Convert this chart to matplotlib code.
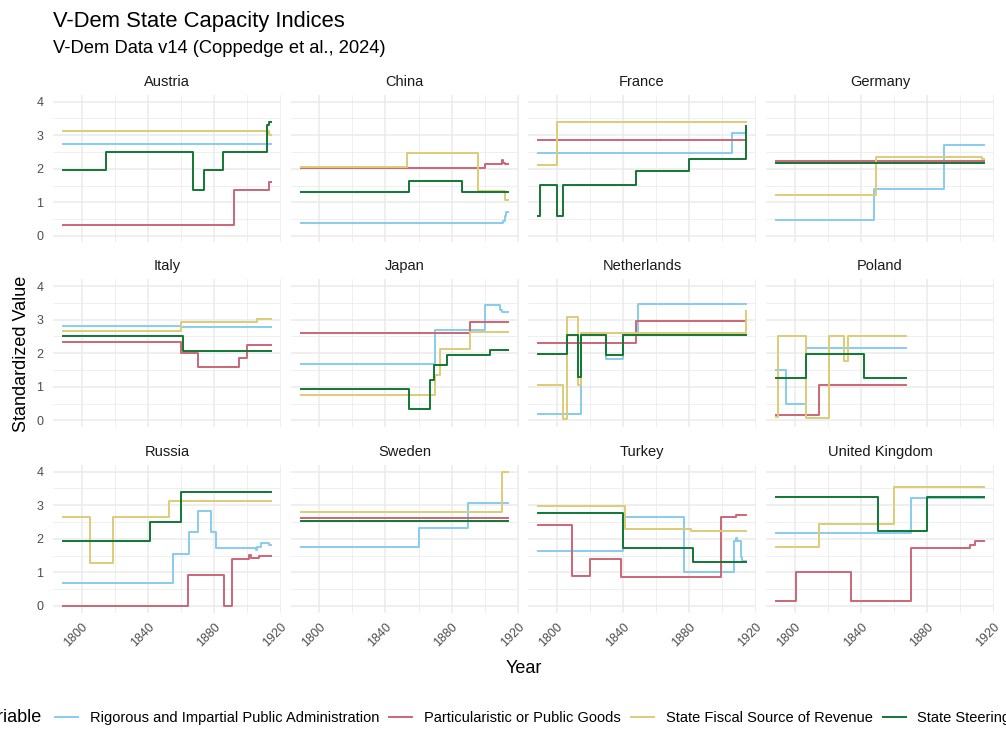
import matplotlib
matplotlib.use('Agg')
import matplotlib.pyplot as plt
from matplotlib.lines import Line2D
from matplotlib.ticker import MultipleLocator

plt.rcParams['font.family'] = ['Liberation Sans', 'DejaVu Sans']

# each series: (years, values); the last pair is where the step line ends
austria = {
    "admin": ([1789, 1914], [2.73, 2.73]),
    "goods": ([1789, 1892, 1913, 1914], [0.33, 1.38, 1.6, 1.6]),
    "fiscal": ([1789, 1913, 1914], [3.12, 3.0, 3.0]),
    "steer": ([1789, 1815, 1867, 1874, 1885, 1912, 1913, 1914],
              [1.95, 2.49, 1.37, 1.95, 2.5, 3.3, 3.4, 3.4]),
}
china = {
    "admin": ([1789, 1911, 1912, 1913, 1914], [0.39, 0.45, 0.6, 0.7, 0.7]),
    "goods": ([1789, 1900, 1910, 1911, 1912, 1914], [2.02, 2.15, 2.25, 2.17, 2.15, 2.15]),
    "fiscal": ([1789, 1853, 1896, 1912, 1914], [2.06, 2.48, 1.35, 1.07, 1.07]),
    "steer": ([1789, 1854, 1886, 1914], [1.32, 1.63, 1.3, 1.3]),
}
france = {
    "admin": ([1789, 1906, 1914], [2.46, 3.06, 3.06]),
    "goods": ([1789, 1914], [2.85, 2.85]),
    "fiscal": ([1789, 1800, 1914], [2.1, 3.38, 3.38]),
    "steer": ([1789, 1790, 1800, 1804, 1848, 1880, 1914],
              [0.58, 1.52, 0.6, 1.52, 1.92, 2.3, 3.28]),
}
germany = {
    "admin": ([1789, 1848, 1890, 1914], [0.47, 1.41, 2.72, 2.72]),
    "goods": ([1789, 1914], [2.24, 2.24]),
    "fiscal": ([1789, 1849, 1913, 1914], [1.23, 2.36, 2.3, 2.3]),
    "steer": ([1789, 1914], [2.16, 2.16]),
}
italy = {
    "admin": ([1789, 1860, 1914], [2.82, 2.77, 2.77]),
    "goods": ([1789, 1860, 1870, 1895, 1900, 1914], [2.35, 2.0, 1.6, 1.85, 2.25, 2.25]),
    "fiscal": ([1789, 1860, 1906, 1914], [2.65, 2.92, 3.01, 3.01]),
    "steer": ([1789, 1861, 1914], [2.51, 2.08, 2.08]),
}
japan = {
    "admin": ([1789, 1870, 1900, 1909, 1910, 1914], [1.69, 2.68, 3.45, 3.3, 3.23, 3.23]),
    "goods": ([1789, 1891, 1914], [2.59, 2.94, 2.94]),
    "fiscal": ([1789, 1870, 1873, 1891, 1914], [0.75, 1.35, 2.13, 2.62, 2.62]),
    "steer": ([1789, 1854, 1867, 1869, 1877, 1903, 1914],
              [0.92, 0.35, 1.2, 1.64, 1.95, 2.1, 2.1]),
}
netherlands = {
    "admin": ([1789, 1815, 1830, 1840, 1849, 1914], [0.2, 2.56, 1.82, 2.56, 3.48, 3.48]),
    "goods": ([1789, 1848, 1914], [2.31, 2.95, 2.95]),
    "fiscal": ([1789, 1804, 1806, 1813, 1815, 1914], [1.04, 0.03, 3.07, 1.04, 2.6, 3.25]),
    "steer": ([1789, 1806, 1813, 1815, 1830, 1840, 1914],
              [1.97, 2.55, 1.3, 2.55, 1.95, 2.55, 2.55]),
}
poland = {
    "admin": ([1789, 1795, 1807, 1867], [1.5, 0.48, 2.15, 2.15]),
    "goods": ([1789, 1815, 1867], [0.16, 1.04, 1.04]),
    "fiscal": ([1789, 1790, 1807, 1821, 1830, 1832, 1867],
               [0.1, 2.52, 0.08, 2.52, 1.76, 2.52, 2.52]),
    "steer": ([1789, 1807, 1842, 1867], [1.26, 1.97, 1.25, 1.25]),
}
russia = {
    "admin": ([1789, 1855, 1865, 1870, 1878, 1881, 1905, 1906, 1908, 1913, 1914],
              [0.68, 1.55, 2.19, 2.83, 2.19, 1.73, 1.65, 1.75, 1.87, 1.8, 1.8]),
    "goods": ([1789, 1864, 1886, 1891, 1901, 1902, 1907, 1914],
              [0.0, 0.92, 0.0, 1.39, 1.52, 1.43, 1.48, 1.48]),
    "fiscal": ([1789, 1805, 1819, 1853, 1914], [2.64, 1.28, 2.65, 3.13, 3.13]),
    "steer": ([1789, 1841, 1860, 1914], [1.93, 2.5, 3.39, 3.39]),
}
sweden = {
    "admin": ([1789, 1860, 1890, 1914], [1.75, 2.33, 3.08, 3.08]),
    "goods": ([1789, 1914], [2.63, 2.63]),
    "fiscal": ([1789, 1910, 1914], [2.79, 4.0, 4.0]),
    "steer": ([1789, 1914], [2.53, 2.53]),
}
turkey = {
    "admin": ([1789, 1840, 1877, 1907, 1908, 1909, 1911, 1912, 1914],
              [1.63, 2.65, 1.02, 1.93, 2.03, 1.93, 1.45, 1.35, 1.35]),
    "goods": ([1789, 1809, 1820, 1839, 1899, 1908, 1914], [2.4, 0.89, 1.39, 0.86, 2.66, 2.7, 2.7]),
    "fiscal": ([1789, 1841, 1881, 1914], [2.99, 2.29, 2.24, 2.24]),
    "steer": ([1789, 1840, 1882, 1914], [2.76, 1.71, 1.32, 1.32]),
}
united_kingdom = {
    "admin": ([1789, 1870, 1914], [2.18, 3.21, 3.21]),
    "goods": ([1789, 1801, 1834, 1870, 1906, 1909, 1914], [0.15, 1.02, 0.13, 1.72, 1.8, 1.94, 1.94]),
    "fiscal": ([1789, 1815, 1860, 1914], [1.75, 2.45, 3.54, 3.54]),
    "steer": ([1789, 1850, 1880, 1914], [3.26, 2.24, 3.25, 3.25]),
}

countries = ["Austria", "China", "France", "Germany",
             "Italy", "Japan", "Netherlands", "Poland",
             "Russia", "Sweden", "Turkey", "United Kingdom"]
panel_data = [austria, china, france, germany,
              italy, japan, netherlands, poland,
              russia, sweden, turkey, united_kingdom]

series = ["admin", "goods", "fiscal", "steer"]
series_labels = ["Rigorous and Impartial Public Administration",
                 "Particularistic or Public Goods",
                 "State Fiscal Source of Revenue",
                 "State Steering"]
colors = ["#88CCEE", "#CC6677", "#DDCC77", "#117733"]

W, H = 1006, 729
fig = plt.figure(figsize=(W / 100, H / 100), dpi=100)
fig.patch.set_facecolor("white")

lefts = [53, 290.5, 528, 766]
tops = [95, 279.5, 465]
pw, ph = 228, 147.5

for i, (name, data) in enumerate(zip(countries, panel_data)):
    r, c = divmod(i, 4)
    ax = fig.add_axes([lefts[c] / W, 1 - (tops[r] + ph) / H, pw / W, ph / H])
    for key, col in zip(series, colors):
        xs, ys = data[key]
        ax.step(xs, ys, where="post", color=col, lw=1.4)
    ax.set_xlim(1782.75, 1920.25)
    ax.set_ylim(-0.2, 4.2)
    ax.xaxis.set_major_locator(MultipleLocator(40))
    ax.xaxis.set_minor_locator(MultipleLocator(20))
    ax.yaxis.set_major_locator(MultipleLocator(1))
    ax.yaxis.set_minor_locator(MultipleLocator(0.5))
    ax.grid(which="major", color="#EBEBEB", lw=1.1)
    ax.grid(which="minor", color="#EBEBEB", lw=0.55)
    ax.set_axisbelow(True)
    for s in ax.spines.values():
        s.set_visible(False)
    ax.tick_params(which="both", length=0, labelsize=9, labelcolor="#4D4D4D")
    ax.tick_params(axis="y", pad=7)
    ax.tick_params(axis="x", pad=6)
    if c != 0:
        ax.set_yticklabels([])
    if r != 2:
        ax.set_xticklabels([])
    else:
        for lab in ax.get_xticklabels():
            lab.set_rotation(45)
            lab.set_ha("right")
            lab.set_va("top")
            lab.set_rotation_mode("anchor")
    ax.set_title(name, fontsize=10.5, color="#1A1A1A", pad=6.5)

fig.text(53 / W, 1 - 26.7 / H, "V-Dem State Capacity Indices", fontsize=15.8,
         va="baseline", ha="left")
fig.text(53 / W, 1 - 53.3 / H, "V-Dem Data v14 (Coppedge et al., 2024)", fontsize=13.2,
         va="baseline", ha="left")
fig.text(22 / W, 1 - 354 / H, "Standardized Value", rotation=90, fontsize=13,
         va="center", ha="center")
fig.text(523.5 / W, 1 - 673 / H, "Year", fontsize=13, va="baseline", ha="center")

# legend is wider than the figure, so both ends get cut like in the original
fig.text(42 / W, 1 - 718 / H, "variable", fontsize=13, va="center", ha="right")
handles = [Line2D([0], [0], color=col, lw=1.4) for col in colors]
fig.legend(handles, series_labels, loc="center left",
           bbox_to_anchor=(55 / W, 1 - 718 / H), ncol=4, frameon=False,
           fontsize=10.5, handlelength=1.58, handletextpad=0.8,
           columnspacing=0.7, borderpad=0, borderaxespad=0)

fig.savefig("out.png", dpi=100)
